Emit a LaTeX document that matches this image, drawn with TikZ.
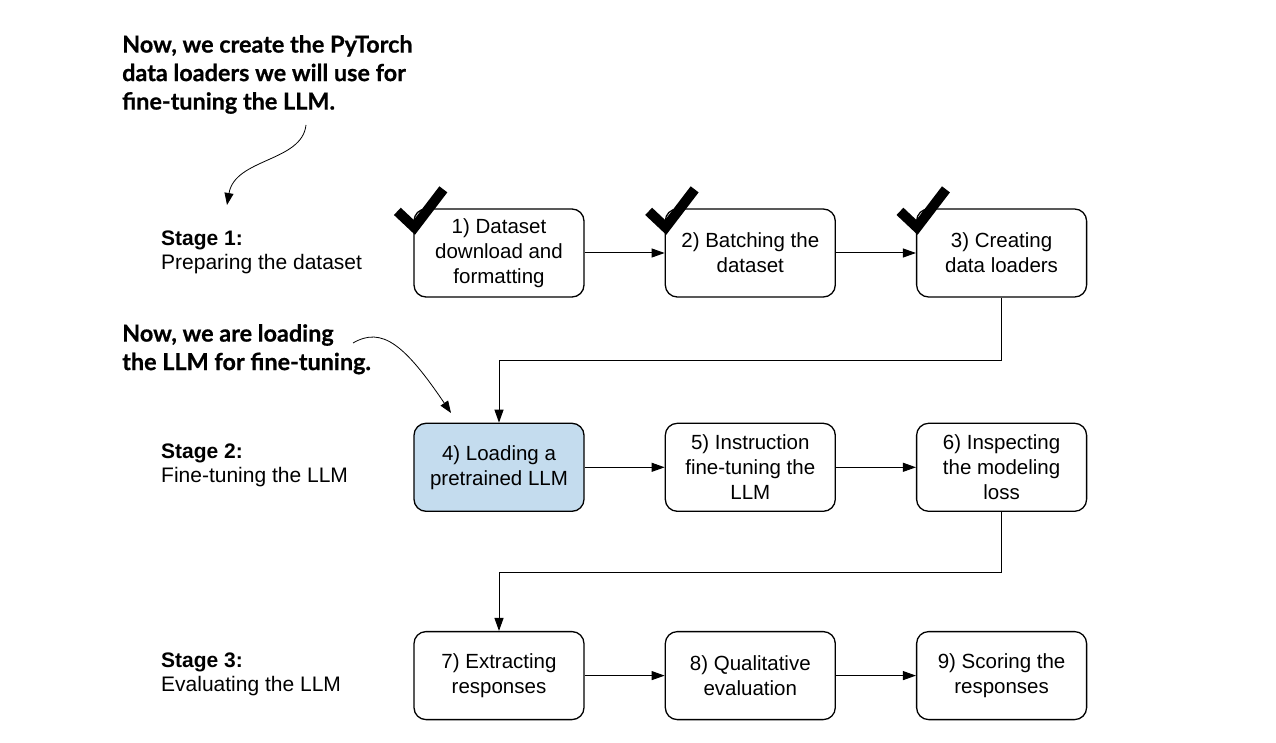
\documentclass[tikz,border=0pt]{standalone}
\usepackage{fontspec}
\setmainfont{Liberation Sans}
\newfontfamily\notefont{Lato}[BoldFeatures={FakeBold=0.6}]
\usetikzlibrary{arrows.meta,positioning}
\definecolor{loadblue}{RGB}{196,220,238}

\begin{document}
\begin{tikzpicture}[x=1pt, y=-1pt,
  box/.style={draw, rounded corners=12pt, line width=1.3pt, minimum width=170pt, minimum height=88pt, align=center, inner sep=0pt, font=\fontsize{20.5}{25}\selectfont},
  arr/.style={-{Triangle[length=13pt, width=9pt]}, line width=1pt},
  notearr/.style={-{Triangle[length=12pt, width=9pt]}, line width=0.8pt},
  note/.style={anchor=north west, align=left, inner sep=0pt, font=\notefont\bfseries\fontsize{23.4}{28.5}\selectfont},
  stage/.style={anchor=west, align=left, inner sep=0pt, font=\fontsize{21}{24}\selectfont},
  tick/.style={line width=10pt},
  node distance=125pt and 80pt]
\useasboundingbox (0,0) rectangle (1276,743);
% Stage 1
\node[box] (b1) at (499,253) {1) Dataset\\download and\\formatting};
\node[box, right=of b1] (b2) {2) Batching the\\dataset};
\node[box, right=of b2] (b3) {3) Creating\\data loaders};
% Stage 2
\node[box, fill=loadblue, below=of b1] (b4) {4) Loading a\\pretrained LLM};
\node[box, right=of b4] (b5) {5) Instruction\\fine-tuning the\\LLM};
\node[box, right=of b5] (b6) {6) Inspecting\\the modeling\\loss};
% Stage 3
\node[box, below=119pt of b4] (b7) {7) Extracting\\responses};
\node[box, right=of b7] (b8) {8) Qualitative\\evaluation};
\node[box, right=of b8] (b9) {9) Scoring the\\responses};

\node[stage] (s1) at (161,252) {\textbf{Stage 1:}\\Preparing the dataset};
\node[stage] (s2) at (161,465) {\textbf{Stage 2:}\\Fine-tuning the LLM};
\node[stage] (s3) at (161,674) {\textbf{Stage 3:}\\Evaluating the LLM};

\draw[arr] (b1) -- (b2);
\draw[arr] (b2) -- (b3);
\draw[arr] (b3.south) -- ++(0,63) -| (b4.north);
\draw[arr] (b4) -- (b5);
\draw[arr] (b5) -- (b6);
\draw[arr] (b6.south) -- ++(0,61) -| (b7.north);
\draw[arr] (b7) -- (b8);
\draw[arr] (b8) -- (b9);

% done marks
\foreach \b in {b1,b2,b3}
  \draw[tick] ([shift={(-16,3)}]\b.north west) -- ++(17,16) -- ++(29,-38);

% notes
\node[note] (n1) at (122,35) {Now, we create the PyTorch\\data loaders we will use for\\fine-tuning the LLM.};
\node[note] (n2) at (122,324) {Now, we are loading\\the LLM for fine-tuning.};
\coordinate (n1tail) at (306,125);
\coordinate (n1tip) at (227,205);
\coordinate (n2tail) at (353,343);
\coordinate (n2tip) at (451,413);
\draw[notearr] (n1tail) .. controls (302,162) and (235,158) .. (n1tip);
\draw[notearr] (n2tail) .. controls (382,326) and (405,345) .. (n2tip);
\end{tikzpicture}
\end{document}
